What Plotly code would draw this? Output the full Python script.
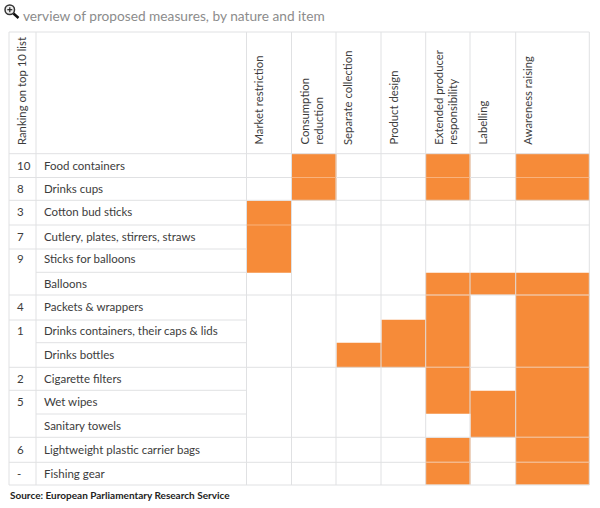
import plotly.graph_objects as go

title_text = "verview of proposed measures, by nature and item"
source_text = "Source: European Parliamentary Research Service"
rank_header = "Ranking on top 10 list"
measures = ["Market restriction", "Consumption<br>reduction", "Separate collection", "Product design",
            "Extended producer<br>responsibility", "Labelling", "Awareness raising"]
items = ["Food containers", "Drinks cups", "Cotton bud sticks", "Cutlery, plates, stirrers, straws",
         "Sticks for balloons", "Balloons", "Packets & wrappers", "Drinks containers, their caps & lids",
         "Drinks bottles", "Cigarette filters", "Wet wipes", "Sanitary towels",
         "Lightweight plastic carrier bags", "Fishing gear"]
ranks = ["10", "8", "3", "7", "9", "", "4", "1", "", "2", "5", "", "6", "-"]
# 1 = measure proposed for this item
market_restriction =   [0, 0, 1, 1, 1, 0, 0, 0, 0, 0, 0, 0, 0, 0]
consumption_reduction =[1, 1, 0, 0, 0, 0, 0, 0, 0, 0, 0, 0, 0, 0]
separate_collection =  [0, 0, 0, 0, 0, 0, 0, 0, 1, 0, 0, 0, 0, 0]
product_design =       [0, 0, 0, 0, 0, 0, 0, 1, 1, 0, 0, 0, 0, 0]
extended_producer =    [1, 1, 0, 0, 0, 1, 1, 1, 1, 1, 1, 0, 1, 1]
labelling =            [0, 0, 0, 0, 0, 1, 0, 0, 0, 0, 1, 1, 0, 0]
awareness_raising =    [1, 1, 0, 0, 0, 1, 1, 1, 1, 1, 1, 1, 1, 1]

# layout geometry (px)
X_EDGES = [9, 36, 246.5, 291.5, 336, 381, 425.7, 470, 515.7, 589.3]
Y_EDGES = [153.7, 177.5, 200.3, 225, 249, 272.3, 295, 320, 342.7, 367.3, 390.3, 414, 437.3, 462.3, 485]
LABEL_NUDGE = [0.5, 0.5, -1, 0, -1.5, 0, -1, 0, 0, 0.5, -0.5, 0, 0, 0.5]
TOP = 32
ORANGE = "#f68b39"
GRID = "#e0e1e3"
FONT = "Lato"
TEXT = "#3c3c3c"

columns = [market_restriction, consumption_reduction, separate_collection, product_design,
           extended_producer, labelling, awareness_raising]
z = [[c[r] for c in columns] for r in range(len(items))]

fig = go.Figure()
fig.add_trace(go.Heatmap(x=X_EDGES[2:], y=Y_EDGES, z=z, zmin=0, zmax=1, showscale=False, hoverinfo="skip",
                         colorscale=[[0, "rgba(255,255,255,0)"], [1, ORANGE]]))

shapes = []
def hline(y, x0, x1, color=GRID, w=1):
    shapes.append(dict(type="line", x0=x0, x1=x1, y0=y, y1=y, layer="above", line=dict(color=color, width=w)))
def vline(x, y0, y1, color=GRID, w=1):
    shapes.append(dict(type="line", x0=x, x1=x, y0=y0, y1=y1, layer="above", line=dict(color=color, width=w)))

for x in X_EDGES:
    vline(x, TOP, Y_EDGES[-1])
hline(TOP, X_EDGES[0], X_EDGES[-1])
hline(Y_EDGES[0], X_EDGES[0], X_EDGES[-1])
hline(Y_EDGES[-1], X_EDGES[0], X_EDGES[-1])
# full-width separators
for i in [1, 2, 6, 9, 12, 13]:
    hline(Y_EDGES[i], X_EDGES[0], X_EDGES[-1])
# rank+item only
for i in [3, 4, 7, 10]:
    hline(Y_EDGES[i], X_EDGES[0], X_EDGES[2])
# merged rank cell: item only
for i in [5, 8, 11]:
    hline(Y_EDGES[i], X_EDGES[1], X_EDGES[2])
# row 3 separator continues across the measures right of market restriction
hline(Y_EDGES[3], X_EDGES[3], X_EDGES[-1])
# light seams over merged orange blocks
SEAM = "#f9b27c"
for i, j in [(1, 1), (1, 4), (1, 6), (3, 0), (6, 4), (6, 6), (9, 4), (9, 6), (12, 6), (13, 4), (13, 6)]:
    hline(Y_EDGES[i], X_EDGES[j + 2], X_EDGES[j + 3], SEAM)

# magnifier icon
shapes += [
    dict(type="circle", x0=5, x1=14.5, y0=5, y1=14.5, line=dict(color="#333333", width=1.5), fillcolor="#eeeeee"),
    dict(type="line", x0=13.5, x1=18.5, y0=13.5, y1=18, line=dict(color="#111111", width=2.5)),
    dict(type="line", x0=7.3, x1=12.3, y0=9.7, y1=9.7, line=dict(color="#222222", width=1.2)),
    dict(type="line", x0=9.8, x1=9.8, y0=7.2, y1=12.2, line=dict(color="#222222", width=1.2)),
]

ann = []
def text(x, y, s, size=11.5, color=TEXT, anchor="left", angle=0, valign="middle", **kw):
    ann.append(dict(x=x, y=y, text=s, showarrow=False, xanchor=anchor, yanchor=valign, textangle=angle,
                    font=dict(family=FONT, size=size, color=color), align="left", **kw))

text(20.5, 15, title_text, size=13.7, color="#8c8c8c")
text(8, 495, "<b>" + source_text + "</b>", size=10, color="#222222")
text(21, 147, rank_header, size=11.3, angle=-90, anchor="center", valign="bottom")
for i, name in enumerate(items):
    ymid = (Y_EDGES[i] + Y_EDGES[i + 1]) / 2 - 0.5 + LABEL_NUDGE[i]
    text(42, ymid, name)
    if ranks[i]:
        text(15, ymid, ranks[i])
for j, m in enumerate(measures):
    xc = X_EDGES[j + 2] + (19.5 if "<br>" in m else 11.5)
    text(xc, 147, m, size=11.3, angle=-90, anchor="center", valign="bottom")

fig.update_layout(
    width=600, height=508, margin=dict(l=0, r=0, t=0, b=0), paper_bgcolor="white", plot_bgcolor="white",
    xaxis=dict(range=[0, 600], visible=False, fixedrange=True),
    yaxis=dict(range=[508, 0], visible=False, fixedrange=True),
    shapes=shapes, annotations=ann, showlegend=False,
)
fig.write_html("out.html", config=dict(displayModeBar=False),
               post_script="document.body.style.margin='0';document.body.style.overflow='hidden';")
